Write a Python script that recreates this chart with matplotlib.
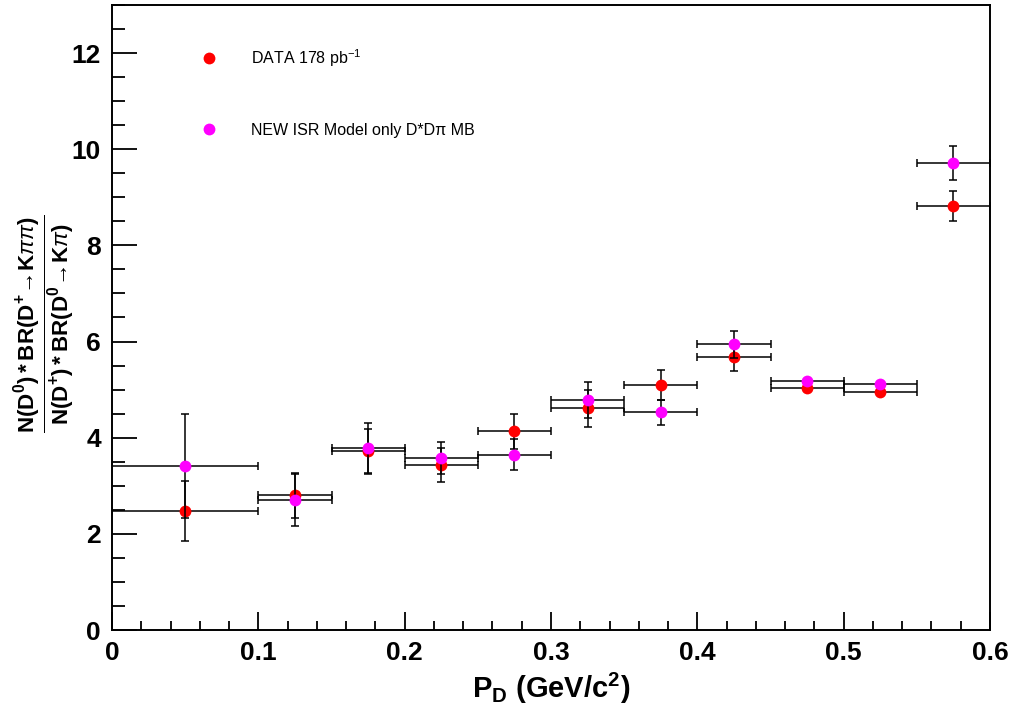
import matplotlib

matplotlib.use("Agg")
import matplotlib.pyplot as plt  # noqa: E402
from matplotlib.lines import Line2D  # noqa: E402
from matplotlib.ticker import MultipleLocator  # noqa: E402

# bins in P_D (GeV/c^2)
bin_lo = [0.0, 0.10, 0.15, 0.20, 0.25, 0.30, 0.35, 0.40, 0.45, 0.50, 0.55]
bin_hi = [0.10, 0.15, 0.20, 0.25, 0.30, 0.35, 0.40, 0.45, 0.50, 0.55, 0.60]

data_val = [2.48, 2.80, 3.72, 3.43, 4.13, 4.61, 5.10, 5.67, 5.04, 4.95, 8.82]
data_err = [0.62, 0.46, 0.47, 0.35, 0.37, 0.39, 0.31, 0.28, 0.05, 0.05, 0.31]

isr_val = [3.42, 2.71, 3.79, 3.58, 3.65, 4.78, 4.53, 5.94, 5.18, 5.11, 9.71]
isr_err = [1.08, 0.54, 0.52, 0.34, 0.32, 0.37, 0.26, 0.28, 0.05, 0.05, 0.36]

DATA_LABEL = "DATA 178 pb$^{-1}$"
ISR_LABEL = "NEW ISR Model only D*Dπ MB"

plt.rcParams["mathtext.fontset"] = "custom"
plt.rcParams["mathtext.rm"] = "Liberation Sans"
plt.rcParams["mathtext.bf"] = "Liberation Sans:bold"
plt.rcParams["mathtext.it"] = "Liberation Sans:italic"
plt.rcParams["font.family"] = ["Liberation Sans"]


def draw_series(ax, vals, errs, color, z):
    xc = [(a + b) / 2 for a, b in zip(bin_lo, bin_hi)]
    xe = [(b - a) / 2 for a, b in zip(bin_lo, bin_hi)]
    ax.errorbar(xc, vals, xerr=xe, yerr=errs, fmt="none", ecolor="black",
                elinewidth=1.1, capsize=2.6, capthick=1.1, zorder=z)
    ax.plot(xc, vals, "o", color=color, markersize=8.5, markeredgewidth=0,
            linestyle="none", zorder=z + 0.5)


def main() -> None:
    fig = plt.figure(figsize=(10.14, 7.08), dpi=100)
    ax = fig.add_axes([112 / 1014, 1 - 630 / 708, 878 / 1014, 625 / 708])

    draw_series(ax, data_val, data_err, "#ff0000", 3)
    draw_series(ax, isr_val, isr_err, "#ff00ff", 4)

    ax.set_xlim(0, 0.6)
    ax.set_ylim(0, 13)
    ax.xaxis.set_major_locator(MultipleLocator(0.1))
    ax.xaxis.set_minor_locator(MultipleLocator(0.02))
    ax.yaxis.set_major_locator(MultipleLocator(2))
    ax.yaxis.set_minor_locator(MultipleLocator(0.5))
    ax.set_xticks([0, 0.1, 0.2, 0.3, 0.4, 0.5, 0.6])
    ax.set_xticklabels(["0", "0.1", "0.2", "0.3", "0.4", "0.5", "0.6"])
    ax.tick_params(axis="x", which="major", direction="in", length=13, width=1.3,
                   pad=8, top=False)
    ax.tick_params(axis="x", which="minor", direction="in", length=6.5, width=1.3,
                   top=False)
    ax.tick_params(axis="y", which="major", direction="in", length=18, width=1.3,
                   pad=8, right=False)
    ax.tick_params(axis="y", which="minor", direction="in", length=9, width=1.3,
                   right=False)
    for lab in ax.get_xticklabels() + ax.get_yticklabels():
        lab.set_fontweight("bold")
        lab.set_fontsize(19)
    for sp in ax.spines.values():
        sp.set_linewidth(1.4)

    ax.set_xlabel("P$_{\\mathbf{D}}$ (GeV/c$^{\\mathbf{2}}$)",
                  fontsize=21, fontweight="bold", labelpad=4)
    ax.set_ylabel(r"$\frac{\mathbf{N(D}^{\mathbf{0}}\mathbf{)*BR(D}^{\mathbf{+}}"
                  r"\mathbf{\!\rightarrow\! K}\pi\pi\mathbf{)}}"
                  r"{\mathbf{N(D}^{\mathbf{+}}\mathbf{)*BR(D}^{\mathbf{0}}"
                  r"\mathbf{\!\rightarrow\! K}\pi\mathbf{)}}$",
                  fontsize=23)
    ax.yaxis.set_label_coords(-0.04, 0.49)

    handles = [
        Line2D([], [], marker="o", color="#ff0000", markersize=8.5,
               markeredgewidth=0, linestyle="none"),
        Line2D([], [], marker="o", color="#ff00ff", markersize=8.5,
               markeredgewidth=0, linestyle="none"),
    ]
    ax.legend(handles, [DATA_LABEL, ISR_LABEL], loc="upper left",
              bbox_to_anchor=(0.085, 0.956), frameon=False, fontsize=11.5,
              handlelength=1.0, handletextpad=2.1, labelspacing=3.4)

    fig.savefig("out.png", dpi=100)
    plt.close(fig)


if __name__ == "__main__":
    main()
